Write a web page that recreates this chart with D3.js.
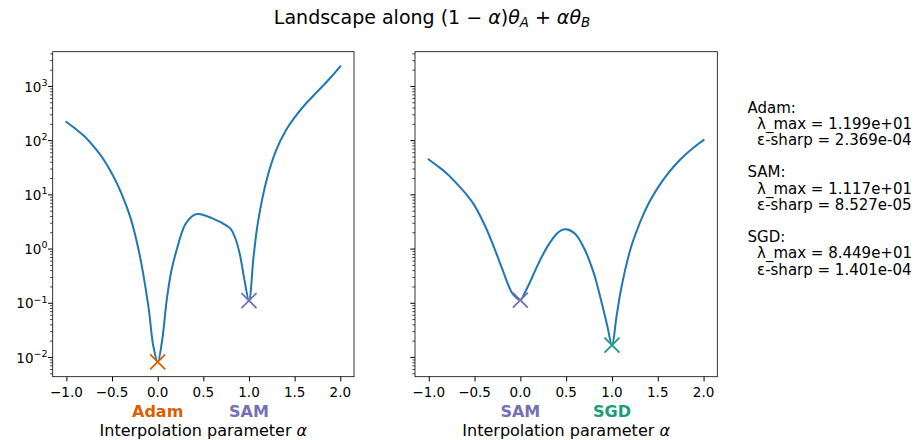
<!DOCTYPE html>
<html>
<head>
<meta charset="utf-8">
<script src="https://cdn.jsdelivr.net/npm/d3@7"></script>
<style>
  body { margin: 0; background: #fff; }
  svg { display: block; }
  text { font-family: "DejaVu Sans", sans-serif; fill: #000; }
</style>
</head>
<body>
<svg id="chart" width="917" height="440"></svg>
<script>
// Interpolation parameter grid shared by both scans
const alphas = [-1, -0.9, -0.8, -0.7, -0.6, -0.5, -0.4, -0.3, -0.2, -0.1, -0.05, 0, 0.05, 0.1, 0.15, 0.2,
  0.3, 0.4, 0.45, 0.5, 0.6, 0.7, 0.8, 0.85, 0.9, 0.95, 1.0, 1.05, 1.1, 1.2, 1.3, 1.4, 1.5, 1.6, 1.7, 1.8, 1.9, 2.0];

// Loss along Adam -> SAM
const lossAdamSam = [217, 162, 117, 76, 46, 24, 10.7, 3.8, 0.80, 0.081, 0.0166, 0.0081, 0.021, 0.117, 0.39, 0.85,
  2.75, 4.2, 4.35, 4.17, 3.6, 3.0, 2.3, 1.55, 0.78, 0.265, 0.110, 0.71, 3.2, 20.4, 67, 148, 263, 427, 646, 966, 1462, 2290];

// Loss along SAM -> SGD
const lossSamSgd = [44, 33, 24, 16.2, 10.5, 6.2, 2.96, 1.2, 0.43, 0.162, 0.126, 0.112, 0.155, 0.23, 0.355, 0.54,
  1.12, 1.9, 2.19, 2.27, 1.86, 0.98, 0.36, 0.18, 0.083, 0.037, 0.0166, 0.056, 0.18, 0.95, 2.85, 6.8, 13.2, 22.9, 36.3, 53.7, 75, 100];

// Optimizer endpoints of each path
const pathAdamSam = ["Adam", "SAM"];
const pathSamSgd = ["SAM", "SGD"];
const endpointAlphas = [0, 1];

const optimizers = ["Adam", "SAM", "SGD"];
const optimizerColors = { Adam: "#d95f02", SAM: "#7570b3", SGD: "#1b9e77" };
const lambdaMax = ["1.199e+01", "1.117e+01", "8.449e+01"];
const epsSharp = ["2.369e-04", "8.527e-05", "1.401e-04"];

const xTicks = [-1.0, -0.5, 0.0, 0.5, 1.0, 1.5, 2.0];
const yTickExponents = [-2, -1, 0, 1, 2, 3];

const svg = d3.select("#chart");
const plotTop = 51.7, plotBottom = 376.7;

// shared log-scale domain with 5% padding in decades
const allLoss = lossAdamSam.concat(lossSamSgd);
const lmin = Math.log10(d3.min(allLoss)), lmax = Math.log10(d3.max(allLoss));
const lpad = (lmax - lmin) * 0.05;
const y = d3.scaleLog().domain([10 ** (lmin - lpad), 10 ** (lmax + lpad)]).range([plotBottom, plotTop]);

const xExtent = d3.extent(alphas);
const xpad = (xExtent[1] - xExtent[0]) * 0.05;

const minorTicks = [];
for (let d = -3; d <= 3; d++) for (let m = 2; m <= 9; m++) {
  const v = m * 10 ** d;
  if (v >= y.domain()[0] && v <= y.domain()[1]) minorTicks.push(v);
}

const fmt = d3.format(".1f");

const panels = [
  { left: 52.7, right: 354, loss: lossAdamSam, ends: pathAdamSam, yLabels: true },
  { left: 415, right: 717.3, loss: lossSamSgd, ends: pathSamSgd, yLabels: false }
];

panels.forEach(p => {
  const x = d3.scaleLinear().domain([xExtent[0] - xpad, xExtent[1] + xpad]).range([p.left, p.right]);
  const g = svg.append("g");

  // x ticks
  const xAxis = g.append("g").attr("transform", `translate(0,${plotBottom})`)
    .call(d3.axisBottom(x).tickValues(xTicks).tickSize(4.7).tickFormat(""));
  xAxis.select(".domain").remove();
  xAxis.selectAll("line").attr("stroke", "#000").attr("stroke-width", 1);
  g.selectAll(".xtl").data(xTicks).join("text")
    .attr("x", d => x(d)).attr("y", 396.5)
    .attr("text-anchor", "middle").attr("font-size", "13.5px")
    .text(d => fmt(d));

  // y ticks (major + minor)
  const yMinor = g.append("g").attr("transform", `translate(${p.left},0)`)
    .call(d3.axisLeft(y).tickValues(minorTicks).tickSize(2.7).tickFormat(""));
  yMinor.select(".domain").remove();
  yMinor.selectAll("line").attr("stroke", "#000").attr("stroke-width", 0.7);
  const yMajor = g.append("g").attr("transform", `translate(${p.left},0)`)
    .call(d3.axisLeft(y).tickValues(yTickExponents.map(e => 10 ** e)).tickSize(4.7).tickFormat(""));
  yMajor.select(".domain").remove();
  yMajor.selectAll("line").attr("stroke", "#000").attr("stroke-width", 1);

  if (p.yLabels) {
    yTickExponents.forEach(e => {
      const t = g.append("text")
        .attr("x", p.left - 5.2).attr("y", y(10 ** e) + 5.6)
        .attr("text-anchor", "end").attr("font-size", "13.5px");
      t.append("tspan").text("10");
      t.append("tspan").attr("font-size", "9.5px").attr("dy", -5.8)
        .text(e < 0 ? "\u2212" + Math.abs(e) : String(e));
    });
  }

  // loss curve
  const line = d3.line()
    .x((d, i) => x(alphas[i]))
    .y(d => y(d))
    .curve(d3.curveCatmullRom.alpha(0.5));
  g.append("path").datum(p.loss)
    .attr("d", line).attr("fill", "none")
    .attr("stroke", "#1f77b4").attr("stroke-width", 2)
    .attr("stroke-linejoin", "round").attr("stroke-linecap", "square");

  // endpoint markers
  endpointAlphas.forEach((a, k) => {
    const v = p.loss[alphas.indexOf(a)];
    const cx = x(a), cy = y(v), r = 7.5;
    g.append("path")
      .attr("d", `M${cx - r},${cy - r}L${cx + r},${cy + r}M${cx - r},${cy + r}L${cx + r},${cy - r}`)
      .attr("stroke", optimizerColors[p.ends[k]]).attr("stroke-width", 1.8).attr("fill", "none");
    g.append("text")
      .attr("x", cx).attr("y", 416.5)
      .attr("text-anchor", "middle").attr("font-size", "16px").attr("font-weight", "bold")
      .style("fill", optimizerColors[p.ends[k]])
      .text(p.ends[k]);
  });

  // frame
  g.append("rect")
    .attr("x", p.left).attr("y", plotTop)
    .attr("width", p.right - p.left).attr("height", plotBottom - plotTop)
    .attr("fill", "none").attr("stroke", "#000").attr("stroke-width", 0.8);

  // x-axis title
  const xt = g.append("text")
    .attr("x", (p.left + p.right) / 2).attr("y", 435.5)
    .attr("text-anchor", "middle").attr("font-size", "16px");
  xt.append("tspan").text("Interpolation parameter ");
  xt.append("tspan").attr("font-style", "italic").text("\u03b1");
});

// figure title
const title = svg.append("text")
  .attr("x", 432).attr("y", 24)
  .attr("text-anchor", "middle").attr("font-size", "19px");
title.append("tspan").text("Landscape along (1 \u2212 ");
title.append("tspan").attr("font-style", "italic").text("\u03b1");
title.append("tspan").text(")");
title.append("tspan").attr("font-style", "italic").text("\u03b8");
title.append("tspan").attr("font-style", "italic").attr("font-size", "13.3px").attr("dy", 3).text("A");
title.append("tspan").attr("dy", -3).text(" + ");
title.append("tspan").attr("font-style", "italic").text("\u03b1\u03b8");
title.append("tspan").attr("font-style", "italic").attr("font-size", "13.3px").attr("dy", 3).text("B");

// sharpness summary
const lines = [];
optimizers.forEach((o, i) => {
  if (i > 0) lines.push("");
  lines.push(o + ":");
  lines.push("  \u03bb_max = " + lambdaMax[i]);
  lines.push("  \u03b5-sharp = " + epsSharp[i]);
});
svg.append("g").selectAll("text").data(lines).join("text")
  .attr("x", 747.5).attr("y", (d, i) => 112.5 + i * 16.2)
  .attr("font-size", "15px")
  .attr("xml:space", "preserve").style("white-space", "pre")
  .text(d => d);
</script>
</body>
</html>
